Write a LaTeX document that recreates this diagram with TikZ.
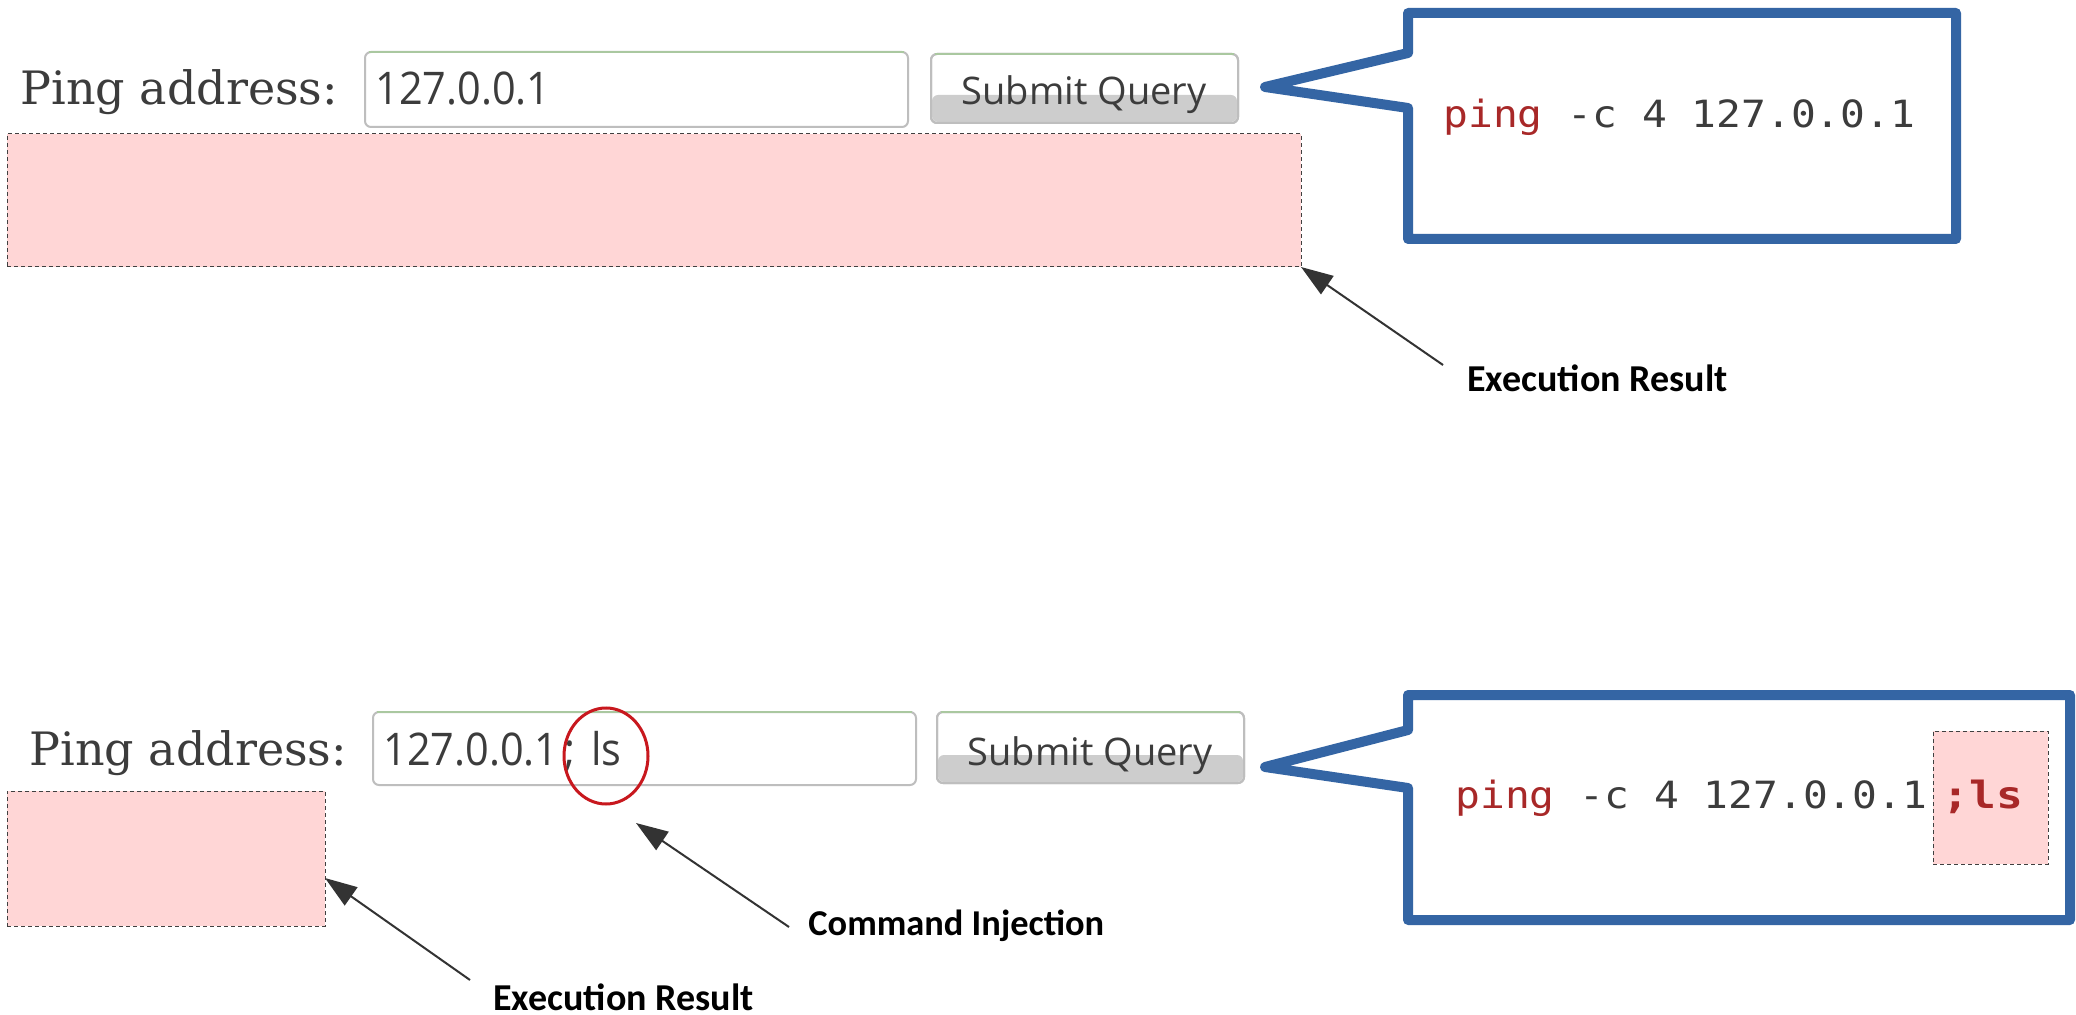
\documentclass[tikz,border=0pt]{standalone}
\usepackage{fontspec}
\setmainfont{DejaVu Serif}
\newfontfamily\uisans{Open Sans}
\newfontfamily\monof{DejaVu Sans Mono}
\newfontfamily\lblf{Carlito}
\usetikzlibrary{arrows.meta,shapes.geometric}
\definecolor{calloutblue}{RGB}{52,101,164}
\definecolor{pinkfill}{RGB}{255,214,214}
\definecolor{pingred}{RGB}{168,40,40}
\definecolor{circred}{RGB}{200,24,30}
\definecolor{txtgray}{RGB}{60,60,60}
\definecolor{boxborder}{RGB}{190,190,190}
\definecolor{boxtop}{RGB}{170,200,160}
\definecolor{btngray}{RGB}{205,205,205}
\begin{document}
\begin{tikzpicture}[x=0.5pt,y=-0.5pt,
  lbl/.style={font=\fontsize{23}{28}\selectfont, text=txtgray, anchor=base west, inner sep=0},
  intext/.style={font=\uisans\fontsize{22.5}{26}\selectfont, text=txtgray, anchor=base west, inner sep=0},
  btntext/.style={font=\uisans\fontsize{19}{23}\selectfont, text=txtgray, anchor=base, inner sep=0},
  code/.style={font=\monof\fontsize{18.75}{22}\selectfont, text=txtgray, anchor=base west, inner sep=0},
  note/.style={font=\lblf\bfseries\fontsize{18.5}{22}\selectfont, anchor=base west, inner sep=0},
  pinkbox/.style={draw=black!75, fill=pinkfill, dash pattern=on 2pt off 1.5pt, line width=0.5pt, inner sep=0, outer sep=0, anchor=north west},
  inputbox/.style={draw=boxborder, fill=white, line width=1pt, rounded corners=3pt},
  topline/.style={draw=boxtop, line width=1.2pt},
  callout/.style={draw=calloutblue, line width=5pt, line join=round, fill=white},
  arr/.style={draw=black!80, line width=1pt, -{Triangle[length=16pt,width=11pt]}},
]
\useasboundingbox (0,0) rectangle (2076,1015);
\fill[white] (0,0) rectangle (2076,1015);

% ---------- top row ----------
\node[lbl] (pa1) at (20,105) {Ping address:};
\draw[inputbox] (365,52) rectangle (908,127);
\draw[topline] (369,52) -- (904,52);
\node[intext] (in1) at (375,105) {\scalebox{0.92}[1]{127.0.0.1}};

\draw[inputbox] (931,54) rectangle (1238,123);
\fill[btngray, rounded corners=3pt] (932,95) rectangle (1237,122);
\draw[boxborder, line width=1pt, rounded corners=3pt] (931,54) rectangle (1238,123);
\draw[topline] (935,54) -- (1234,54);
\node[btntext] (bt1) at (1084,105) {Submit Query};

\node[pinkbox, minimum width=647pt, minimum height=66.5pt] (res1) at (7,134) {};

\draw[callout] (1408,13) -- (1956,13) -- (1956,239) -- (1408,239) -- (1408,108) -- (1265,87) -- (1408,53) -- cycle;
\node[code] (c1) at (1443,128) {\scalebox{1.1}[1]{\textcolor{pingred}{ping} -c 4 127.0.0.1}};

\node[note, font=\lblf\bfseries\fontsize{19}{22}\selectfont] (er1) at (1467,392) {Execution Result};
\coordinate (a1s) at (1443,365);
\draw[arr] (a1s) -- (res1.south east);

% ---------- bottom row ----------
\node[lbl] (pa2) at (29,765) {Ping address:};
\draw[inputbox] (373,712) rectangle (916,785);
\draw[topline] (377,712) -- (912,712);
\node[intext] (in2) at (383,765) {\scalebox{0.92}[1]{127.0.0.1\hspace{3pt};\hspace{3pt} ls}};
\node[draw=circred, line width=1.5pt, ellipse, inner sep=0, minimum width=42pt, minimum height=48pt] (inj) at (606,756) {};

\draw[inputbox] (937,712) rectangle (1244,783);
\fill[btngray, rounded corners=3pt] (938,755) rectangle (1243,782);
\draw[boxborder, line width=1pt, rounded corners=3pt] (937,712) rectangle (1244,783);
\draw[topline] (941,712) -- (1240,712);
\node[btntext] (bt2) at (1090,765) {Submit Query};

\node[pinkbox, minimum width=159pt, minimum height=67.5pt] (res2) at (7,791) {};

\draw[callout] (1408,695) -- (2070,695) -- (2070,920) -- (1408,920) -- (1408,788) -- (1265,767) -- (1408,730) -- cycle;
\node[pinkbox, minimum width=57.5pt, minimum height=66.5pt] (res3) at (1933,731) {};
\node[code] (c2) at (1455,808) {\scalebox{1.1}[1]{\textcolor{pingred}{ping} -c 4 127.0.0.1\hspace{7pt}\scalebox{1.08}[1]{\textcolor{pingred}{\bfseries ;ls}}}};

\node[note, font=\lblf\bfseries\fontsize{18.2}{22}\selectfont] (ci) at (808,935) {Command Injection};
\coordinate (a3s) at (789,927);
\coordinate (a3e) at (636,823);
\draw[arr] (a3s) -- (a3e);

\node[note, font=\lblf\bfseries\fontsize{19}{22}\selectfont] (er2) at (493,1010) {Execution Result};
\coordinate (a2s) at (470,980);
\coordinate (a2e) at (325,878);
\draw[arr] (a2s) -- (a2e);
\end{tikzpicture}
\end{document}
